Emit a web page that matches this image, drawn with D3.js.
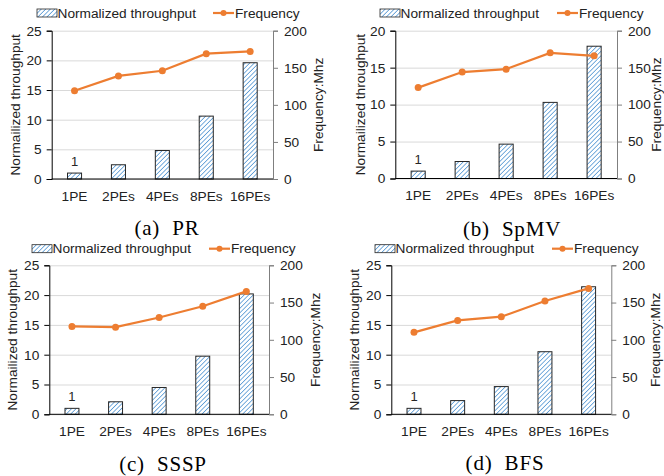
<!DOCTYPE html>
<html>
<head>
<meta charset="utf-8">
<script src="https://cdn.jsdelivr.net/npm/d3@7"></script>
<style>
  body { margin: 0; background: #fff; }
  text { font-family: "Liberation Sans", Arial, sans-serif; }
</style>
</head>
<body>
<div id="chart"></div>
<script>
// categories and values
const categories = ["1PE", "2PEs", "4PEs", "8PEs", "16PEs"];

const prThroughput = [1, 2.4, 4.8, 10.6, 19.6];
const prFreq = [119, 139, 146, 169, 172];

const spmvThroughput = [1, 2.3, 4.65, 10.3, 17.9];
const spmvFreq = [123, 144, 148, 170, 166];

const ssspThroughput = [1, 2.1, 4.5, 9.75, 20.2];
const ssspFreq = [118, 117, 130, 145, 165];

const bfsThroughput = [1, 2.3, 4.65, 10.5, 21.4];
const bfsFreq = [110, 126, 131, 152, 169];

const leftMax = [25, 20, 25, 25];
const rightMax = 200;
const captions = ["(a)  PR", "(b)  SpMV", "(c)  SSSP", "(d)  BFS"];

const W = 664, H = 476;
const FS = 13.7;
const svg = d3.select("#chart").append("svg")
    .attr("width", W)
    .attr("height", H);

// hatch pattern for the bars
const defs = svg.append("defs");
const pat = defs.append("pattern")
    .attr("id", "hatch")
    .attr("patternUnits", "userSpaceOnUse")
    .attr("width", 3.2)
    .attr("height", 3.2)
    .attr("patternTransform", "rotate(45)");
pat.append("rect").attr("width", 3.2).attr("height", 3.2).attr("fill", "#fff");
pat.append("line")
    .attr("x1", 0).attr("y1", 0).attr("x2", 0).attr("y2", 3.2)
    .attr("stroke", "#5b9bd5").attr("stroke-width", 1.6);

const orange = "#ed7d31";

// panel layout (left axis x, right axis x, top y, bottom y, legend x, caption pos, titles)
const panels = [
  {bars: prThroughput, freq: prFreq, x0: 51.7, x1: 273, y0: 30.7, y1: 179,
   legX: 37, freqLegX: 213, legY: 13, capX: 167, capY: 235, ltX: 15, rtX: 318},
  {bars: spmvThroughput, freq: spmvFreq, x0: 395.3, x1: 617, y0: 30.7, y1: 178.5,
   legX: 380, freqLegX: 557, legY: 13, capX: 512, capY: 236, ltX: 360, rtX: 656},
  {bars: ssspThroughput, freq: ssspFreq, x0: 49.3, x1: 269, y0: 265.3, y1: 414.3,
   legX: 32, freqLegX: 209, legY: 248.7, capX: 163, capY: 471, ltX: 12, rtX: 315},
  {bars: bfsThroughput, freq: bfsFreq, x0: 391.3, x1: 611.3, y0: 265.3, y1: 414.3,
   legX: 375, freqLegX: 552, legY: 248.7, capX: 505, capY: 470, ltX: 354, rtX: 655}
];

panels.forEach((p, i) => drawPanel(p, i));

function drawPanel(p, i) {
  const g = svg.append("g");

  const x = d3.scaleBand()
    .domain(categories)
    .range([p.x0, p.x1])
    .paddingInner(0.68)
    .paddingOuter(0.36);

  const y = d3.scaleLinear().domain([0, leftMax[i]]).range([p.y1, p.y0]);
  const y2 = d3.scaleLinear().domain([0, rightMax]).range([p.y1, p.y0]);

  // gridlines
  g.append("g")
    .attr("transform", `translate(${p.x0},0)`)
    .call(d3.axisLeft(y).ticks(5).tickSize(-(p.x1 - p.x0)).tickFormat(""))
    .call(a => a.select(".domain").remove())
    .call(a => a.selectAll("line").attr("stroke", "#d9d9d9"));

  // bars
  g.append("g").selectAll("rect")
    .data(p.bars)
    .join("rect")
      .attr("x", (d, j) => x(categories[j]))
      .attr("y", d => y(d))
      .attr("width", x.bandwidth())
      .attr("height", d => p.y1 - y(d))
      .attr("fill", "url(#hatch)")
      .attr("stroke", "#262626")
      .attr("stroke-width", 1);

  // label on first bar
  g.append("text")
    .attr("x", x(categories[0]) + x.bandwidth() / 2)
    .attr("y", y(p.bars[0]) - 7)
    .attr("text-anchor", "middle")
    .attr("font-size", 13)
    .attr("fill", "#262626")
    .text(p.bars[0]);

  // left axis
  const la = g.append("g")
    .attr("transform", `translate(${p.x0},0)`)
    .call(d3.axisLeft(y).ticks(5).tickSize(5).tickPadding(5));
  la.select(".domain").attr("stroke", "#000");
  la.selectAll("text").attr("font-size", FS).attr("fill", "#222")
    .style("font-family", "Liberation Sans, Arial, sans-serif");

  // right axis
  const ra = g.append("g")
    .attr("transform", `translate(${p.x1},0)`)
    .call(d3.axisRight(y2).ticks(4).tickSize(5).tickPadding(6));
  ra.select(".domain").attr("stroke", "#7f7f7f");
  ra.selectAll("line").attr("stroke", "#7f7f7f");
  ra.selectAll("text").attr("font-size", FS).attr("fill", "#222")
    .style("font-family", "Liberation Sans, Arial, sans-serif");

  // x axis
  const xa = g.append("g")
    .attr("transform", `translate(0,${p.y1})`)
    .call(d3.axisBottom(x).tickSize(0).tickPadding(12));
  xa.select(".domain").attr("stroke", "#000").attr("d", `M${p.x0},0H${p.x1}`);
  xa.selectAll("text").attr("font-size", FS).attr("fill", "#222")
    .style("font-family", "Liberation Sans, Arial, sans-serif");

  // frequency line
  const line = d3.line()
    .x((d, j) => x(categories[j]) + x.bandwidth() / 2)
    .y(d => y2(d));
  g.append("path")
    .datum(p.freq)
    .attr("d", line)
    .attr("fill", "none")
    .attr("stroke", orange)
    .attr("stroke-width", 2.2);
  g.append("g").selectAll("circle")
    .data(p.freq)
    .join("circle")
      .attr("cx", (d, j) => x(categories[j]) + x.bandwidth() / 2)
      .attr("cy", d => y2(d))
      .attr("r", 3.5)
      .attr("fill", orange);

  // axis titles
  const midY = (p.y0 + p.y1) / 2;
  g.append("text")
    .attr("transform", `translate(${p.ltX},${midY}) rotate(-90)`)
    .attr("text-anchor", "middle")
    .attr("dominant-baseline", "central")
    .attr("font-size", FS)
    .attr("fill", "#222")
    .text("Normailized throughput");
  g.append("text")
    .attr("transform", `translate(${p.rtX},${midY}) rotate(-90)`)
    .attr("text-anchor", "middle")
    .attr("dominant-baseline", "central")
    .attr("font-size", FS)
    .attr("fill", "#222")
    .text("Frequency:Mhz");

  // legend
  const lg = g.append("g");
  lg.append("rect")
    .attr("x", p.legX).attr("y", p.legY - 4)
    .attr("width", 20).attr("height", 8)
    .attr("fill", "url(#hatch)")
    .attr("stroke", "#262626").attr("stroke-width", 0.8);
  lg.append("text")
    .attr("x", p.legX + 20.5).attr("y", p.legY)
    .attr("dominant-baseline", "central")
    .attr("font-size", FS).attr("fill", "#222")
    .text("Normalized throughput");
  lg.append("line")
    .attr("x1", p.freqLegX).attr("x2", p.freqLegX + 21)
    .attr("y1", p.legY).attr("y2", p.legY)
    .attr("stroke", orange).attr("stroke-width", 2.2);
  lg.append("circle")
    .attr("cx", p.freqLegX + 10.5).attr("cy", p.legY).attr("r", 3)
    .attr("fill", orange);
  lg.append("text")
    .attr("x", p.freqLegX + 22).attr("y", p.legY)
    .attr("dominant-baseline", "central")
    .attr("font-size", FS).attr("fill", "#222")
    .text("Frequency");

  // caption
  g.append("text")
    .attr("x", p.capX).attr("y", p.capY)
    .attr("text-anchor", "middle")
    .attr("font-size", 21)
    .attr("letter-spacing", 0.8)
    .attr("fill", "#000")
    .style("font-family", "Liberation Serif, Times New Roman, serif")
    .style("white-space", "pre")
    .text(captions[i]);
}
</script>
</body>
</html>
